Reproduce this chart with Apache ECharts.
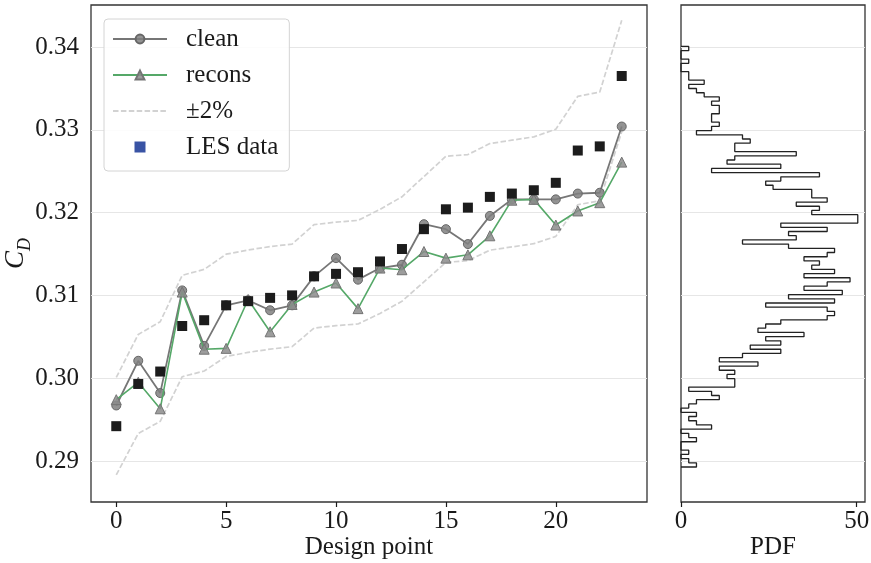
<!DOCTYPE html>
<html>
<head>
<meta charset="utf-8">
<script src="https://cdn.jsdelivr.net/npm/echarts@6/dist/echarts.min.js"></script>
<style>
  html, body { margin: 0; padding: 0; background: #ffffff; }
  #chart { width: 871px; height: 563px; }
</style>
</head>
<body>
<div id="chart"></div>
<script>
// Drag coefficient per design point
const designPoints = [0, 1, 2, 3, 4, 5, 6, 7, 8, 9, 10, 11, 12, 13, 14, 15, 16, 17, 18, 19, 20, 21, 22, 23];
const cleanCD = [0.2967, 0.3021, 0.2982, 0.3106, 0.3039, 0.3088, 0.3094, 0.3082, 0.3088, 0.3123, 0.3145, 0.3119,
                 0.3133, 0.3137, 0.3186, 0.3180, 0.3162, 0.3196, 0.3216, 0.3216, 0.3216, 0.3223, 0.3224, 0.3304];
const reconsCD = [0.2974, 0.2995, 0.2963, 0.3104, 0.3035, 0.3036, 0.3095, 0.3056, 0.3089, 0.3104, 0.3115, 0.3084,
                  0.3133, 0.3131, 0.3153, 0.3145, 0.3149, 0.3172, 0.3215, 0.3216, 0.3185, 0.3202, 0.3212, 0.3261];
const lesCD = [0.2942, 0.2993, 0.3008, 0.3063, 0.3070, 0.3088, 0.3093, 0.3097, 0.3100, 0.3123, 0.3126, 0.3128,
               0.3141, 0.3156, 0.3180, 0.3204, 0.3206, 0.3219, 0.3223, 0.3227, 0.3236, 0.3275, 0.3280, 0.3365];
const bandFraction = 0.02; // the ±2% envelope around the LES values

// Axis ticks
const cdTicks = [0.29, 0.30, 0.31, 0.32, 0.33, 0.34];
const pointTicks = [0, 5, 10, 15, 20];
const pdfTicks = [0, 50];

// Histogram of C_D samples: PDF per bin, from the lowest bin upwards
const histStart = 0.28927;
const histBinWidth = 0.000508;
const histPDF = [
  4.4, 2.2, 0, 2.2, 0, 0, 4.4, 2.2, 0, 8.7, 4.4, 2.2, 4.4, 0, 2.2, 4.4, 10.9, 8.7, 2.2, 15.3, 15.3, 13.1, 15.3, 10.9, 21.9, 10.9,
  17.5, 28.4, 19.7, 28.4, 24.1, 35.0, 21.9, 24.1, 28.4, 41.6, 43.7, 41.6, 24.1, 43.7, 30.6, 45.9, 35.0, 41.6, 48.1, 35.0, 43.7, 37.2, 39.4, 35.0, 41.6,
  43.7, 30.6, 17.5, 32.8, 30.6, 41.6, 28.4, 50.3, 50.3, 37.2, 39.4, 32.8, 41.6, 37.2, 37.2, 26.2, 24.1, 28.4, 39.4, 8.7, 28.4, 13.1, 15.3, 32.8,
  15.3, 15.3, 19.7, 17.5, 4.4, 8.7, 10.9, 8.7, 8.7, 10.9, 10.9, 8.7, 10.9, 6.6, 4.4, 2.2, 6.6, 2.2, 2.2, 0, 0, 2.2, 0, 0, 2.2
];

// Step outline of the horizontal histogram
const histOutline = [[0, histStart]];
histPDF.forEach((p, i) => {
  const lo = histStart + i * histBinWidth;
  histOutline.push([p, lo], [p, lo + histBinWidth]);
});
histOutline.push([0, histStart + histPDF.length * histBinWidth]);

const pair = (vals) => designPoints.map((d, i) => [d, vals[i]]);
const upperBand = designPoints.map((d, i) => [d, lesCD[i] * (1 + bandFraction)]);
const lowerBand = designPoints.map((d, i) => [d, lesCD[i] * (1 - bandFraction)]);

const serif = "'Liberation Serif', 'DejaVu Serif', serif";
const ink = '#1a1a1a';
const frame = '#333333';
const gridColor = '#e6e6e6';
const cdMin = 0.28504, cdMax = 0.34508;

const chart = echarts.init(document.getElementById('chart'), null, { renderer: 'canvas' });

const bandStyle = { color: '#d2d2d2', width: 1.7, type: [5.5, 2.4] };
const panel = { show: true, borderColor: frame, borderWidth: 1.3, backgroundColor: 'transparent',
                containLabel: false, outerBoundsMode: 'none' };

chart.setOption({
  animation: false,
  backgroundColor: '#ffffff',
  textStyle: { fontFamily: serif },
  grid: [
    Object.assign({ left: 91, top: 5, width: 556, height: 497 }, panel),
    Object.assign({ left: 681, top: 5, width: 184, height: 497 }, panel)
  ],
  xAxis: [
    {
      type: 'value', gridIndex: 0, min: -1.15, max: 24.15,
      name: 'Design point', nameLocation: 'middle', nameGap: 33, nameMoveOverlap: false,
      nameTextStyle: { fontFamily: serif, fontSize: 25, color: ink },
      axisLine: { show: false },
      axisTick: { show: true, length: 5, customValues: pointTicks, lineStyle: { color: ink, width: 1.2 } },
      axisLabel: { customValues: pointTicks, fontFamily: serif, fontSize: 25, color: ink, margin: 7 },
      splitLine: { show: false }
    },
    {
      type: 'value', gridIndex: 1, min: 0, max: 52.36,
      name: 'PDF', nameLocation: 'middle', nameGap: 33, nameMoveOverlap: false,
      nameTextStyle: { fontFamily: serif, fontSize: 25, color: ink },
      axisLine: { show: false },
      axisTick: { show: true, length: 5, customValues: pdfTicks, lineStyle: { color: ink, width: 1.2 } },
      axisLabel: { customValues: pdfTicks, fontFamily: serif, fontSize: 25, color: ink, margin: 7 },
      splitLine: { show: false }
    }
  ],
  yAxis: [
    {
      type: 'value', gridIndex: 0, min: cdMin, max: cdMax,
      name: '{c|C}{d|D}', nameLocation: 'middle', nameGap: 57, nameRotate: 90, nameMoveOverlap: false,
      nameTextStyle: {
        fontFamily: serif, color: ink,
        rich: {
          c: { fontFamily: serif, fontSize: 27, fontStyle: 'italic', color: ink, verticalAlign: 'bottom', padding: [0, 0, 5, 0] },
          d: { fontFamily: serif, fontSize: 18, fontStyle: 'italic', color: ink, verticalAlign: 'bottom' }
        }
      },
      axisLine: { show: false },
      axisTick: { show: false, customValues: cdTicks },
      axisLabel: { customValues: cdTicks, fontFamily: serif, fontSize: 25, color: ink, margin: 12,
                   formatter: (v) => v.toFixed(2) },
      splitLine: { show: true, lineStyle: { color: gridColor, width: 1 } }
    },
    {
      type: 'value', gridIndex: 1, min: cdMin, max: cdMax,
      axisLine: { show: false },
      axisTick: { show: false, customValues: cdTicks },
      axisLabel: { show: false, customValues: cdTicks },
      splitLine: { show: true, lineStyle: { color: gridColor, width: 1 } }
    }
  ],
  legend: {
    orient: 'vertical', left: 104, top: 19,
    padding: [7, 11, 11, 8],
    itemWidth: 54, itemHeight: 11, itemGap: 10,
    backgroundColor: 'rgba(255,255,255,0.85)',
    borderColor: '#d4d4d4', borderWidth: 1, borderRadius: 4,
    textStyle: { fontFamily: serif, fontSize: 25, color: ink, lineHeight: 26, padding: [0, 0, 0, 14] },
    data: [
      { name: 'clean' },
      { name: 'recons' },
      { name: '±2%', itemStyle: { opacity: 0 } },
      { name: 'LES data', icon: 'path://M0,0L10,0L10,10L0,10Z', itemStyle: { color: '#3953a4', opacity: 1 } }
    ]
  },
  series: [
    {
      name: '±2%', type: 'line', xAxisIndex: 0, yAxisIndex: 0, data: upperBand,
      symbol: 'none', lineStyle: bandStyle, itemStyle: { color: '#d2d2d2' }, z: 1
    },
    {
      name: '±2%', type: 'line', xAxisIndex: 0, yAxisIndex: 0, data: lowerBand,
      symbol: 'none', lineStyle: bandStyle, itemStyle: { color: '#d2d2d2' }, z: 1
    },
    {
      name: 'clean', type: 'line', xAxisIndex: 0, yAxisIndex: 0, data: pair(cleanCD),
      symbol: 'circle', symbolSize: 9,
      lineStyle: { color: '#767676', width: 1.8 },
      itemStyle: { color: 'rgba(128,128,128,0.85)', borderColor: '#666666', borderWidth: 1 },
      z: 2
    },
    {
      name: 'recons', type: 'line', xAxisIndex: 0, yAxisIndex: 0, data: pair(reconsCD),
      symbol: 'triangle', symbolSize: 10,
      lineStyle: { color: '#55a868', width: 1.6 },
      itemStyle: { color: 'rgba(140,140,140,0.85)', borderColor: '#747474', borderWidth: 1 },
      z: 3
    },
    {
      name: 'LES data', type: 'scatter', xAxisIndex: 0, yAxisIndex: 0, data: pair(lesCD),
      symbol: 'rect', symbolSize: 10,
      itemStyle: { color: '#1c1c1c', opacity: 1 },
      z: 4
    },
    {
      name: 'PDF', type: 'line', xAxisIndex: 1, yAxisIndex: 1, data: histOutline,
      symbol: 'none', lineStyle: { color: '#222222', width: 1.3 }, z: 2
    }
  ]
});
</script>
</body>
</html>
